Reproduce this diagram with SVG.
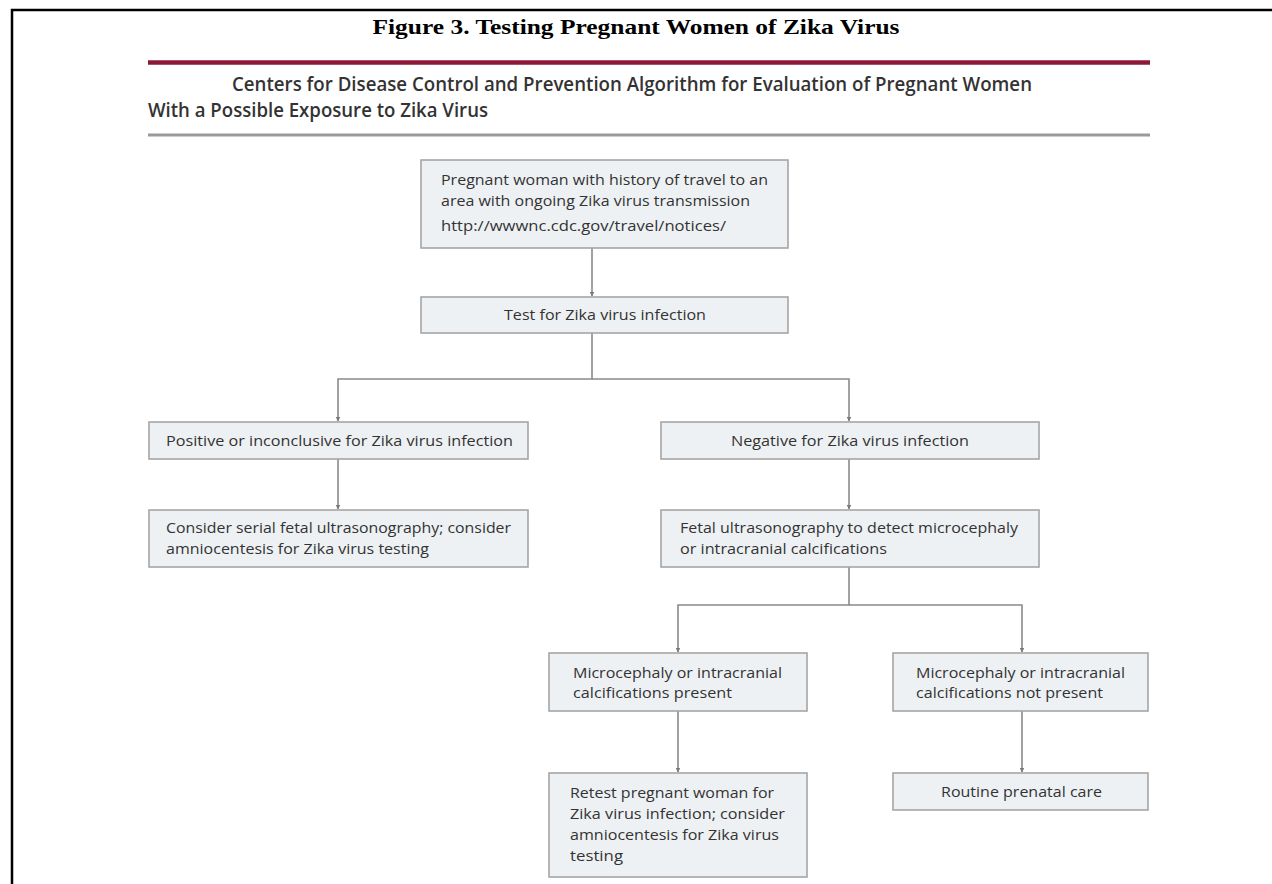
<svg xmlns="http://www.w3.org/2000/svg" width="1272" height="884" viewBox="0 0 1272 884">
<defs>
<style>
.frame{stroke:#000;stroke-width:2.5;fill:none}
.box{fill:#eef1f4;stroke:#a6a6a6;stroke-width:1.6}
.t{font-family:"Open Sans","Liberation Sans",sans-serif;font-size:15px;fill:#333}
.sub{font-family:"Open Sans","Liberation Sans",sans-serif;font-size:20px;font-weight:600;fill:#333}
.title{font-family:"Liberation Serif","Times New Roman",serif;font-size:22px;font-weight:bold;fill:#000}
.con{stroke:#8a8a8a;stroke-width:1.6;fill:none}
</style>
<marker id="arr" viewBox="0 0 10 10" refX="9" refY="5" markerWidth="5" markerHeight="5" orient="auto" markerUnits="userSpaceOnUse">
<path d="M0,0 L10,5 L0,10 z" fill="#7a7a7a"/>
</marker>
</defs>
<rect width="1272" height="884" fill="#fff"/>
<path class="frame" d="M12,884 V10 H1272"/>
<text class="title" x="636" y="34" text-anchor="middle" textLength="527" lengthAdjust="spacingAndGlyphs">Figure 3. Testing Pregnant Women of Zika Virus</text>
<line x1="148" y1="62.5" x2="1150" y2="62.5" stroke="#8c1838" stroke-width="4.5"/>
<text class="sub" x="232" y="91" textLength="800" lengthAdjust="spacingAndGlyphs">Centers for Disease Control and Prevention Algorithm for Evaluation of Pregnant Women</text>
<text class="sub" x="148" y="117" textLength="340" lengthAdjust="spacingAndGlyphs">With a Possible Exposure to Zika Virus</text>
<line x1="148" y1="135" x2="1150" y2="135" stroke="#9a9a9a" stroke-width="3"/>

<g id="connectors">
<path class="con" d="M592,248 V296" marker-end="url(#arr)"/>
<path class="con" d="M592,333 V379 H338 V421" marker-end="url(#arr)"/>
<path class="con" d="M592,379 H849 V421" marker-end="url(#arr)"/>
<path class="con" d="M338,459 V509" marker-end="url(#arr)"/>
<path class="con" d="M849,459 V509" marker-end="url(#arr)"/>
<path class="con" d="M849,567 V605 H678 V652" marker-end="url(#arr)"/>
<path class="con" d="M849,605 H1022 V652" marker-end="url(#arr)"/>
<path class="con" d="M678,711 V772" marker-end="url(#arr)"/>
<path class="con" d="M1022,711 V772" marker-end="url(#arr)"/>
</g>

<g id="n-travel">
<rect class="box" x="421" y="160" width="367" height="88"/>
<text class="t" x="441" y="185" textLength="327" lengthAdjust="spacingAndGlyphs">Pregnant woman with history of travel to an</text>
<text class="t" x="441" y="206" textLength="309" lengthAdjust="spacingAndGlyphs">area with ongoing Zika virus transmission</text>
<text class="t" x="441" y="231" textLength="285" lengthAdjust="spacingAndGlyphs">http://wwwnc.cdc.gov/travel/notices/</text>
</g>
<g id="n-test">
<rect class="box" x="421" y="297" width="367" height="36"/>
<text class="t" x="504" y="320" textLength="202" lengthAdjust="spacingAndGlyphs">Test for Zika virus infection</text>
</g>
<g id="n-positive">
<rect class="box" x="149" y="422" width="379" height="37"/>
<text class="t" x="166" y="446" textLength="347" lengthAdjust="spacingAndGlyphs">Positive or inconclusive for Zika virus infection</text>
</g>
<g id="n-serial">
<rect class="box" x="149" y="510" width="379" height="57"/>
<text class="t" x="166" y="533" textLength="345" lengthAdjust="spacingAndGlyphs">Consider serial fetal ultrasonography; consider</text>
<text class="t" x="166" y="554" textLength="263" lengthAdjust="spacingAndGlyphs">amniocentesis for Zika virus testing</text>
</g>
<g id="n-negative">
<rect class="box" x="661" y="422" width="378" height="37"/>
<text class="t" x="731" y="446" textLength="238" lengthAdjust="spacingAndGlyphs">Negative for Zika virus infection</text>
</g>
<g id="n-fetal">
<rect class="box" x="661" y="510" width="378" height="57"/>
<text class="t" x="680" y="533" textLength="338" lengthAdjust="spacingAndGlyphs">Fetal ultrasonography to detect microcephaly</text>
<text class="t" x="680" y="554" textLength="207" lengthAdjust="spacingAndGlyphs">or intracranial calcifications</text>
</g>
<g id="n-present">
<rect class="box" x="549" y="653" width="258" height="58"/>
<text class="t" x="573" y="678" textLength="209" lengthAdjust="spacingAndGlyphs">Microcephaly or intracranial</text>
<text class="t" x="573" y="698" textLength="159" lengthAdjust="spacingAndGlyphs">calcifications present</text>
</g>
<g id="n-notpresent">
<rect class="box" x="893" y="653" width="255" height="58"/>
<text class="t" x="916" y="678" textLength="209" lengthAdjust="spacingAndGlyphs">Microcephaly or intracranial</text>
<text class="t" x="916" y="698" textLength="187" lengthAdjust="spacingAndGlyphs">calcifications not present</text>
</g>
<g id="n-retest">
<rect class="box" x="549" y="773" width="258" height="104"/>
<text class="t" x="570" y="798" textLength="204" lengthAdjust="spacingAndGlyphs">Retest pregnant woman for</text>
<text class="t" x="570" y="819" textLength="215" lengthAdjust="spacingAndGlyphs">Zika virus infection; consider</text>
<text class="t" x="570" y="840" textLength="209" lengthAdjust="spacingAndGlyphs">amniocentesis for Zika virus</text>
<text class="t" x="570" y="861" textLength="53" lengthAdjust="spacingAndGlyphs">testing</text>
</g>
<g id="n-routine">
<rect class="box" x="893" y="773" width="255" height="37"/>
<text class="t" x="941" y="797" textLength="161" lengthAdjust="spacingAndGlyphs">Routine prenatal care</text>
</g>
</svg>
